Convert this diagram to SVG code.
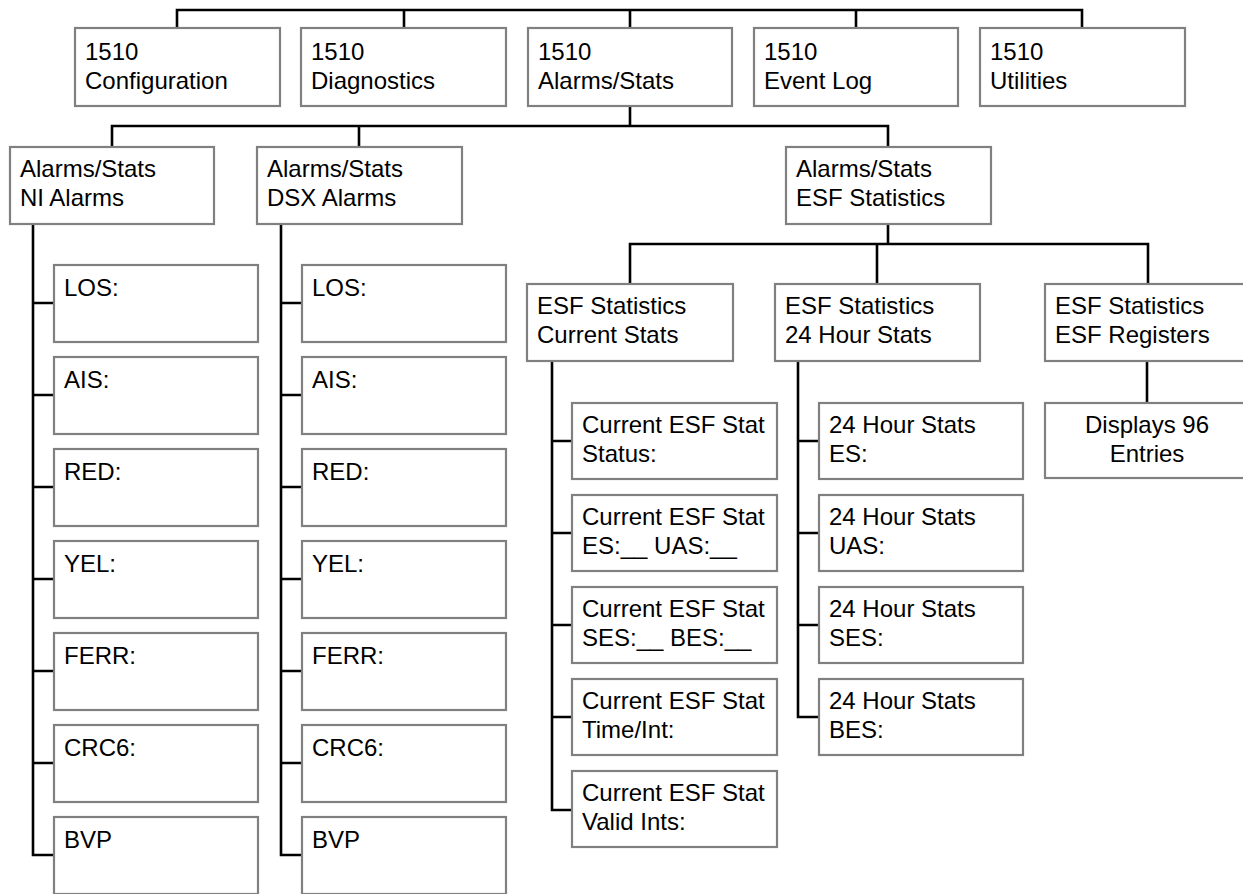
<svg xmlns="http://www.w3.org/2000/svg" width="1243" height="894" viewBox="0 0 1243 894">
<style>
.box{fill:#fff;stroke:#808080;stroke-width:2.2}
.t{font-family:"Liberation Sans",Arial,sans-serif;font-size:24px;fill:#000}
.c{text-anchor:middle}
.conn{fill:none;stroke:#000;stroke-width:2.6;stroke-linejoin:miter;stroke-linecap:square}
</style>
<rect width="1243" height="894" fill="#fff"/>
<g id="connectors">
<path class="conn" d="M177,28V10H1082V28M404,10V28M630,10V28M856,10V28"/>
<path class="conn" d="M630,106V126M112,147V126H888V147M359,126V147"/>
<path class="conn" d="M888,224V244M630,284V244H1148V284M877,244V284"/>
<path class="conn" d="M33,224V855H54M33,303H54M33,395H54M33,487H54M33,579H54M33,671H54M33,763H54"/>
<path class="conn" d="M281,224V855H302M281,303H302M281,395H302M281,487H302M281,579H302M281,671H302M281,763H302"/>
<path class="conn" d="M552,361V810H572M552,441H572M552,533H572M552,625H572M552,717H572"/>
<path class="conn" d="M798,361V717H819M798,441H819M798,533H819M798,625H819"/>
<path class="conn" d="M1147,361V403"/>
</g>
<g id="n-config"><rect class="box" x="75" y="28" width="205" height="78"/><text class="t" x="85" y="60">1510</text><text class="t" x="85" y="89">Configuration</text></g>
<g id="n-diag"><rect class="box" x="301" y="28" width="205" height="78"/><text class="t" x="311" y="60">1510</text><text class="t" x="311" y="89">Diagnostics</text></g>
<g id="n-alarms"><rect class="box" x="528" y="28" width="204" height="78"/><text class="t" x="538" y="60">1510</text><text class="t" x="538" y="89">Alarms/Stats</text></g>
<g id="n-event"><rect class="box" x="754" y="28" width="204" height="78"/><text class="t" x="764" y="60">1510</text><text class="t" x="764" y="89">Event Log</text></g>
<g id="n-util"><rect class="box" x="980" y="28" width="205" height="78"/><text class="t" x="990" y="60">1510</text><text class="t" x="990" y="89">Utilities</text></g>

<g id="n-ni"><rect class="box" x="10" y="147" width="204" height="77"/><text class="t" x="20" y="177">Alarms/Stats</text><text class="t" x="20" y="206">NI Alarms</text></g>
<g id="n-dsx"><rect class="box" x="257" y="147" width="205" height="77"/><text class="t" x="267" y="177">Alarms/Stats</text><text class="t" x="267" y="206">DSX Alarms</text></g>
<g id="n-esf"><rect class="box" x="786" y="147" width="205" height="77"/><text class="t" x="796" y="177">Alarms/Stats</text><text class="t" x="796" y="206">ESF Statistics</text></g>

<g id="n-cur"><rect class="box" x="527" y="284" width="206" height="77"/><text class="t" x="537" y="314">ESF Statistics</text><text class="t" x="537" y="343">Current Stats</text></g>
<g id="n-24h"><rect class="box" x="775" y="284" width="205" height="77"/><text class="t" x="785" y="314">ESF Statistics</text><text class="t" x="785" y="343">24 Hour Stats</text></g>
<g id="n-reg"><rect class="box" x="1045" y="284" width="205" height="77"/><text class="t" x="1055" y="314">ESF Statistics</text><text class="t" x="1055" y="343">ESF Registers</text></g>

<g id="ni-los"><rect class="box" x="54" y="265" width="204" height="77"/><text class="t" x="64" y="296">LOS:</text></g>
<g id="ni-ais"><rect class="box" x="54" y="357" width="204" height="77"/><text class="t" x="64" y="388">AIS:</text></g>
<g id="ni-red"><rect class="box" x="54" y="449" width="204" height="77"/><text class="t" x="64" y="480">RED:</text></g>
<g id="ni-yel"><rect class="box" x="54" y="541" width="204" height="77"/><text class="t" x="64" y="572">YEL:</text></g>
<g id="ni-ferr"><rect class="box" x="54" y="633" width="204" height="77"/><text class="t" x="64" y="664">FERR:</text></g>
<g id="ni-crc6"><rect class="box" x="54" y="725" width="204" height="77"/><text class="t" x="64" y="756">CRC6:</text></g>
<g id="ni-bvp"><rect class="box" x="54" y="817" width="204" height="77"/><text class="t" x="64" y="848">BVP</text></g>

<g id="dsx-los"><rect class="box" x="302" y="265" width="204" height="77"/><text class="t" x="312" y="296">LOS:</text></g>
<g id="dsx-ais"><rect class="box" x="302" y="357" width="204" height="77"/><text class="t" x="312" y="388">AIS:</text></g>
<g id="dsx-red"><rect class="box" x="302" y="449" width="204" height="77"/><text class="t" x="312" y="480">RED:</text></g>
<g id="dsx-yel"><rect class="box" x="302" y="541" width="204" height="77"/><text class="t" x="312" y="572">YEL:</text></g>
<g id="dsx-ferr"><rect class="box" x="302" y="633" width="204" height="77"/><text class="t" x="312" y="664">FERR:</text></g>
<g id="dsx-crc6"><rect class="box" x="302" y="725" width="204" height="77"/><text class="t" x="312" y="756">CRC6:</text></g>
<g id="dsx-bvp"><rect class="box" x="302" y="817" width="204" height="77"/><text class="t" x="312" y="848">BVP</text></g>

<g id="cur-status"><rect class="box" x="572" y="403" width="205" height="76"/><text class="t" x="582" y="433">Current ESF Stat</text><text class="t" x="582" y="462">Status:</text></g>
<g id="cur-es"><rect class="box" x="572" y="495" width="205" height="76"/><text class="t" x="582" y="525">Current ESF Stat</text><text class="t" x="582" y="554">ES:__ UAS:__</text></g>
<g id="cur-ses"><rect class="box" x="572" y="587" width="205" height="76"/><text class="t" x="582" y="617">Current ESF Stat</text><text class="t" x="582" y="646">SES:__ BES:__</text></g>
<g id="cur-time"><rect class="box" x="572" y="679" width="205" height="76"/><text class="t" x="582" y="709">Current ESF Stat</text><text class="t" x="582" y="738">Time/Int:</text></g>
<g id="cur-valid"><rect class="box" x="572" y="771" width="205" height="76"/><text class="t" x="582" y="801">Current ESF Stat</text><text class="t" x="582" y="830">Valid Ints:</text></g>

<g id="h24-es"><rect class="box" x="819" y="403" width="204" height="76"/><text class="t" x="829" y="433">24 Hour Stats</text><text class="t" x="829" y="462">ES:</text></g>
<g id="h24-uas"><rect class="box" x="819" y="495" width="204" height="76"/><text class="t" x="829" y="525">24 Hour Stats</text><text class="t" x="829" y="554">UAS:</text></g>
<g id="h24-ses"><rect class="box" x="819" y="587" width="204" height="76"/><text class="t" x="829" y="617">24 Hour Stats</text><text class="t" x="829" y="646">SES:</text></g>
<g id="h24-bes"><rect class="box" x="819" y="679" width="204" height="76"/><text class="t" x="829" y="709">24 Hour Stats</text><text class="t" x="829" y="738">BES:</text></g>

<g id="reg-disp"><rect class="box" x="1045" y="403" width="205" height="75"/><text class="t c" x="1147" y="433">Displays 96</text><text class="t c" x="1147" y="462">Entries</text></g>
</svg>
